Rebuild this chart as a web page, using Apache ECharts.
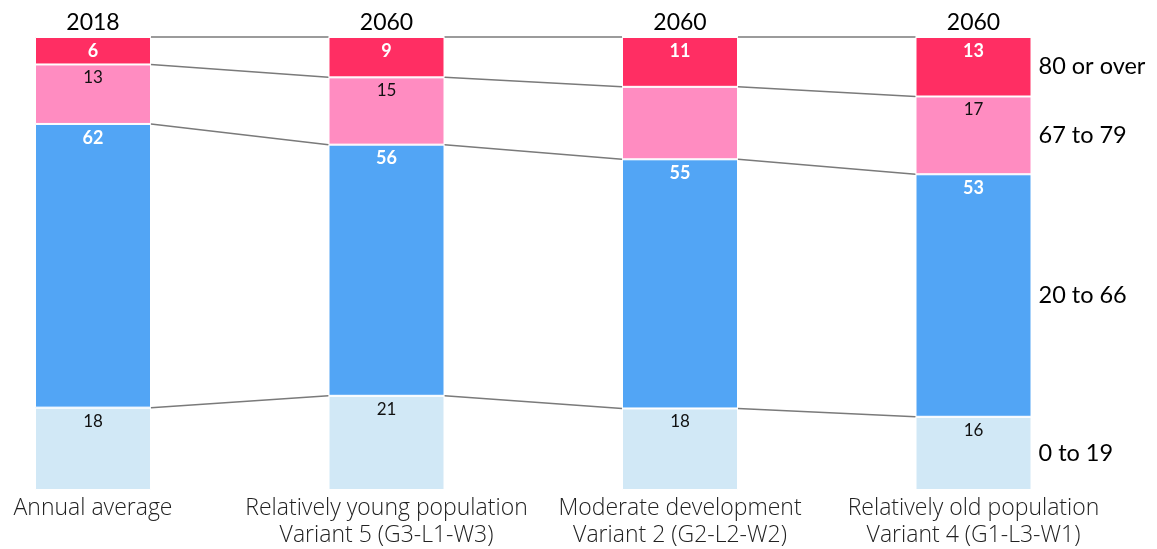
<!DOCTYPE html>
<html>
<head>
<meta charset="utf-8">
<script src="https://cdn.jsdelivr.net/npm/echarts@6/dist/echarts.min.js"></script>
<style>
  html, body { margin: 0; padding: 0; background: #ffffff; }
  #chart { width: 1157px; height: 549px; }
</style>
</head>
<body>
<div id="chart"></div>
<script>
// Scenario columns (bottom axis) and the year shown above each column
const categories = [
  'Annual average',
  'Relatively young population\nVariant 5 (G3-L1-W3)',
  'Moderate development\nVariant 2 (G2-L2-W2)',
  'Relatively old population\nVariant 4 (G1-L3-W1)'
];
const yearLabels = ['2018', '2060', '2060', '2060'];

// Age groups, bottom to top, with their share of the population (%)
const groupNames = ['0 to 19', '20 to 66', '67 to 79', '80 or over'];
const age0to19   = [18, 21, 18, 16];
const age20to66  = [62, 56, 55, 53];
const age67to79  = [13, 15, 16, 17];
const age80plus  = [6, 9, 11, 13];
// the 67–79 figure of the third column carries no printed label
const hiddenLabels = [[], [], [2], []];

const colors = ['#d1e8f6', '#52a5f5', '#ff8cc1', '#ff2e63'];
const labelStyles = [
  { color: '#111', fontWeight: 'normal', fontSize: 17 },
  { color: '#fff', fontWeight: 'bold', fontSize: 18 },
  { color: '#111', fontWeight: 'normal', fontSize: 17 },
  { color: '#fff', fontWeight: 'bold', fontSize: 18 }
];

const groups = [age0to19, age20to66, age67to79, age80plus];
const BAR_W = 116;

// Each column is drawn as a 100 % stack of its own printed shares
const totals = categories.map((_, i) => groups.reduce((s, g) => s + g[i], 0));
const shares = groups.map(g => g.map((v, i) => v / totals[i] * 100));

// Cumulative boundaries per column: level 0 = bottom, level 4 = top
const cum = categories.map((_, i) => {
  const out = [0];
  shares.forEach(s => out.push(out[out.length - 1] + s[i]));
  return out;
});

// Connector segments between neighbouring columns at each boundary above the base
const connectorData = [];
for (let level = 1; level <= groups.length; level++) {
  for (let i = 0; i < categories.length - 1; i++) {
    connectorData.push([i, cum[i][level], cum[i + 1][level]]);
  }
}

const last = categories.length - 1;

const barSeries = groups.map((raw, k) => ({
  name: groupNames[k],
  type: 'bar',
  stack: 'total',
  barWidth: BAR_W,
  clip: false,
  z: 3,
  itemStyle: { color: colors[k], borderColor: '#ffffff', borderWidth: 1 },
  data: shares[k].map((v, i) => hiddenLabels[i].includes(k)
    ? { value: v, label: { show: false } }
    : v),
  label: {
    show: true,
    position: 'insideTop',
    distance: 5,
    fontFamily: 'Lato',
    color: labelStyles[k].color,
    fontWeight: labelStyles[k].fontWeight,
    fontSize: labelStyles[k].fontSize,
    formatter: p => String(raw[p.dataIndex])
  },
  // group name beside the last column, centred on its segment
  markPoint: {
    symbol: 'rect',
    symbolSize: [BAR_W, 1],
    itemStyle: { color: 'rgba(0,0,0,0)' },
    silent: true,
    label: {
      show: true,
      position: 'right',
      distance: 7,
      fontFamily: 'Lato',
      fontSize: 23.5,
      color: '#000',
      formatter: groupNames[k]
    },
    data: [{ coord: [last, (cum[last][k] + cum[last][k + 1]) / 2] }]
  }
}));

const connectorSeries = {
  type: 'custom',
  z: 1,
  silent: true,
  clip: false,
  encode: { x: 0, y: [1, 2] },
  data: connectorData,
  renderItem: (params, api) => {
    const i = api.value(0);
    const p1 = api.coord([i, api.value(1)]);
    const p2 = api.coord([i + 1, api.value(2)]);
    return {
      type: 'line',
      shape: { x1: p1[0] + BAR_W / 2, y1: p1[1], x2: p2[0] - BAR_W / 2, y2: p2[1] },
      style: { stroke: '#7a7a7a', lineWidth: 1.5 }
    };
  }
};

const chart = echarts.init(document.getElementById('chart'), null, { renderer: 'canvas' });
chart.setOption({
  animation: false,
  backgroundColor: '#ffffff',
  // column centres sit on the first and last ticks of the category axis
  grid: { left: 93, right: 183.5, top: 37, bottom: 59 },
  xAxis: [
    {
      type: 'category',
      data: categories,
      boundaryGap: false,
      axisLine: { show: false },
      axisTick: { show: false },
      axisLabel: {
        interval: 0,
        margin: 5,
        fontFamily: 'Open Sans',
        fontWeight: 300,
        fontSize: 23,
        lineHeight: 27,
        color: '#222'
      }
    },
    {
      type: 'category',
      position: 'top',
      data: yearLabels,
      boundaryGap: false,
      axisLine: { show: false },
      axisTick: { show: false },
      axisLabel: {
        interval: 0,
        margin: 3,
        fontFamily: 'Lato',
        fontSize: 23,
        lineHeight: 23,
        color: '#000'
      }
    }
  ],
  yAxis: { type: 'value', min: 0, max: 100, show: false },
  series: [connectorSeries, ...barSeries]
});
</script>
</body>
</html>
